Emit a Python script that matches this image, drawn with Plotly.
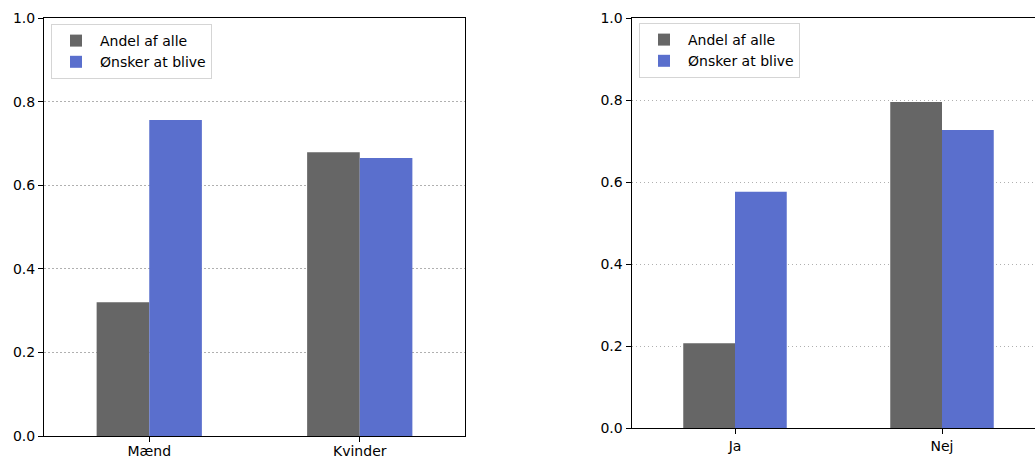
import plotly.graph_objects as go

W, H = 1035, 459

cats_left = ["Mænd", "Kvinder"]
andel_left = [0.32, 0.679]
onsker_left = [0.756, 0.665]

cats_right = ["Ja", "Nej"]
andel_right = [0.207, 0.795]
onsker_right = [0.576, 0.727]

series_names = ["Andel af alle", "Ønsker at blive"]
colors = ["#666666", "#5A6FCD"]
yticks = [0.0, 0.2, 0.4, 0.6, 0.8, 1.0]
ytick_text = ["0.0", "0.2", "0.4", "0.6", "0.8", "1.0"]

fig = go.Figure()
for name, vals, col in zip(series_names, [andel_left, onsker_left], colors):
    fig.add_trace(go.Bar(x=[0, 1], y=vals, name=name, marker=dict(color=col, line=dict(width=0)),
                         xaxis="x", yaxis="y", legend="legend"))
for name, vals, col in zip(series_names, [andel_right, onsker_right], colors):
    fig.add_trace(go.Bar(x=[0, 1], y=vals, name=name, marker=dict(color=col, line=dict(width=0)),
                         xaxis="x2", yaxis="y2", legend="legend2"))

axis_common = dict(showline=True, linecolor="black", linewidth=1, ticks="outside",
                   ticklen=5, tickcolor="black", tickwidth=1, zeroline=False, automargin=False,
                   tickfont=dict(family="DejaVu Sans", size=14, color="black"))
grid = dict(showgrid=True, gridcolor="#b0b0b0", griddash="1.5px,2.5px", gridwidth=1)

x_right_end = (W - 631.5) / 207.0 - 0.5

legend_common = dict(xanchor="left", yanchor="top", bgcolor="rgba(255,255,255,0.8)",
                     bordercolor="#d5d5d5", borderwidth=1, itemwidth=38,
                     font=dict(family="DejaVu Sans", size=14, color="black"))

fig.update_layout(
    width=W, height=H,
    margin=dict(l=0, r=0, t=0, b=0, autoexpand=False),
    paper_bgcolor="white", plot_bgcolor="white",
    barmode="group", bargap=0.5, bargroupgap=0,
    font=dict(family="DejaVu Sans", size=14, color="black"),
    xaxis=dict(domain=[44 / W, 465 / W], range=[-0.5, 1.5], tickvals=[0, 1], ticktext=cats_left,
               mirror=True, showgrid=False, anchor="y", ticklabelstandoff=-3, **axis_common),
    yaxis=dict(domain=[23 / H, 441 / H], range=[0, 1.0], tickvals=yticks, ticktext=ytick_text,
               mirror=True, anchor="x", **grid, **axis_common),
    xaxis2=dict(domain=[631.5 / W, 1.0], range=[-0.5, x_right_end], tickvals=[0, 1], ticktext=cats_right,
                mirror=True, showgrid=False, anchor="y2", **axis_common),
    yaxis2=dict(domain=[31 / H, 441 / H], range=[0, 1.0], tickvals=yticks, ticktext=ytick_text,
                mirror=False, anchor="x2", **grid, **axis_common),
    legend=dict(x=51 / W, y=(H - 24) / H, **legend_common),
    legend2=dict(x=639 / W, y=(H - 23) / H, **legend_common),
)

post = (
    "document.documentElement.style.margin='0';"
    "document.body.style.margin='0';"
    "document.body.style.overflow='hidden';"
)

fig.write_html("out.html", post_script=post, config={"displayModeBar": False})
